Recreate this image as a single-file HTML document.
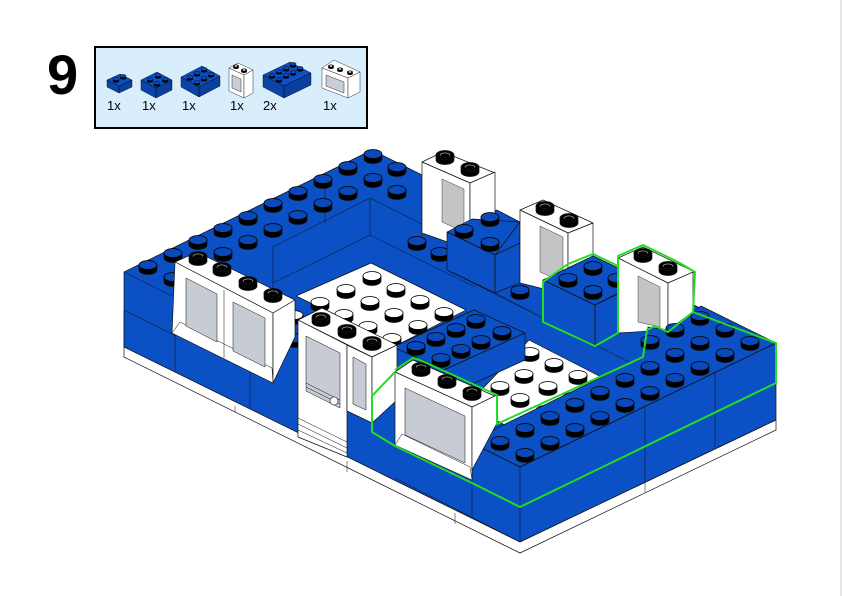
<!DOCTYPE html>
<html><head><meta charset="utf-8"><style>
html,body{margin:0;padding:0;background:#fff;}
svg{display:block;}
text{font-family:"Liberation Sans",sans-serif;}
</style></head><body>
<svg width="842" height="596" viewBox="0 0 842 596" xmlns="http://www.w3.org/2000/svg">
<defs>
<g id="bs"><path d="M-9,0 v5 a9,4.5 0 0 0 18,0 v-5 z" fill="#000"/><ellipse cx="0" cy="0" rx="9" ry="4.5" fill="#0b48b8" stroke="#000" stroke-width="0.8"/></g>
<g id="ws"><path d="M-9,0 v5 a9,4.5 0 0 0 18,0 v-5 z" fill="#000"/><ellipse cx="0" cy="0" rx="9" ry="4.5" fill="#fff" stroke="#000" stroke-width="0.8"/></g>
<g id="hs"><path d="M-9,0 v5 a9,4.5 0 0 0 18,0 v-5 z" fill="#000"/><ellipse cx="0" cy="0" rx="9" ry="4.5" fill="#000"/><ellipse cx="0" cy="0" rx="5.5" ry="2.6" fill="#fff"/><ellipse cx="0" cy="0.5" rx="4.5" ry="2" fill="#000"/></g>
<g id="ms"><ellipse cx="0" cy="2" rx="3.2" ry="1.6" fill="#000"/><ellipse cx="0" cy="0" rx="3.2" ry="1.6" fill="#0b48b8" stroke="#000" stroke-width="0.4"/></g>
<g id="mh"><ellipse cx="0" cy="1.5" rx="3" ry="1.5" fill="#000"/><ellipse cx="0" cy="0" rx="3" ry="1.5" fill="#000"/><ellipse cx="0" cy="0" rx="1.4" ry="0.7" fill="#fff"/></g>
</defs>
<rect width="842" height="596" fill="#fff"/>
<line x1="841" y1="0" x2="841" y2="596" stroke="#ddd" stroke-width="1.5"/>

<!-- step number -->
<text x="47" y="94" font-size="56" font-weight="bold" fill="#000">9</text>
<!-- parts box -->
<rect x="95" y="47" width="272" height="81" fill="#d9eefc" stroke="#000" stroke-width="2"/>
<g stroke="#000" stroke-width="0.4" fill="#0b50c4">
 <polygon points="107,80 120,74 132,80 119,86"/><polygon points="107,80 119,86 119,93 107,87" fill="#0a44a8"/><polygon points="119,86 132,80 132,87 119,93" fill="#0a3f9c"/>
 <polygon points="141,80 157,72 172,80 156,88"/><polygon points="141,80 156,88 156,98 141,90" fill="#0a44a8"/><polygon points="156,88 172,80 172,90 156,98" fill="#0a3f9c"/>
 <polygon points="181,77 202,66 220,76 199,87"/><polygon points="181,77 199,87 199,97 181,87" fill="#0a44a8"/><polygon points="199,87 220,76 220,86 199,97" fill="#0a3f9c"/>
 <polygon points="263,75 290,62 311,73 284,86"/><polygon points="263,75 284,86 284,98 263,87" fill="#0a44a8"/><polygon points="284,86 311,73 311,85 284,98" fill="#0a3f9c"/>
</g>
<g fill="#fff" stroke="#000" stroke-width="0.4">
 <polygon points="229,68 238,63 253,70 244,75"/><polygon points="229,68 244,75 244,98 229,91"/><polygon points="244,75 253,70 253,93 244,98"/>
 <polygon points="232,75 241,79 241,92 232,88" fill="#c8cdd6"/>
 <polygon points="322,68 334,60 360,72 348,78"/><polygon points="322,68 348,78 348,98 322,88"/><polygon points="348,78 360,72 360,92 348,98"/>
 <polygon points="326,75 344,82 344,93 326,86" fill="#c8cdd6"/>
</g>
<use href="#ms" x="116" y="79"/><use href="#ms" x="123" y="76"/>
<use href="#ms" x="150" y="79"/><use href="#ms" x="158" y="75"/><use href="#ms" x="157" y="83"/><use href="#ms" x="165" y="79"/>
<use href="#ms" x="190" y="77"/><use href="#ms" x="197" y="73"/><use href="#ms" x="204" y="69"/><use href="#ms" x="197" y="82"/><use href="#ms" x="204" y="78"/><use href="#ms" x="211" y="74"/>
<use href="#ms" x="272" y="75"/><use href="#ms" x="279" y="71"/><use href="#ms" x="286" y="68"/><use href="#ms" x="293" y="64"/><use href="#ms" x="279" y="79"/><use href="#ms" x="286" y="75"/><use href="#ms" x="293" y="72"/><use href="#ms" x="300" y="68"/>
<use href="#mh" x="236" y="66"/><use href="#mh" x="244" y="70"/>
<use href="#mh" x="331" y="66"/><use href="#mh" x="340" y="69"/><use href="#mh" x="350" y="72"/>
<g font-size="13" fill="#000">
<text x="107" y="110">1x</text><text x="142" y="110">1x</text><text x="182" y="110">1x</text><text x="230" y="110">1x</text><text x="263" y="110">2x</text><text x="323" y="110">1x</text>
</g>

<!-- ============ MODEL ============ -->
<g stroke="#111" stroke-width="0.7" stroke-linejoin="round">
<!-- blue silhouette -->
<polygon fill="#0b50c4" points="124,272 372,150 422,175 422,235 447,228 497,210 520,222 520,283 543,282 593,256 618,268 700,308 776,343 776,420 520,542 124,347"/>
<!-- white base -->
<polygon fill="#fff" points="124,347 520,542 776,420 776,430 520,553 124,357"/>
<g fill="none" stroke-width="0.5">
<line x1="124" y1="310" x2="176" y2="336"/>
<line x1="175" y1="298" x2="175" y2="372"/><line x1="250" y1="335" x2="250" y2="408"/>
<line x1="395" y1="478" x2="520" y2="542"/>
<line x1="472" y1="443" x2="472" y2="517"/>
<line x1="520" y1="467" x2="520" y2="542"/>
<line x1="520" y1="507" x2="776" y2="383"/>
<line x1="645" y1="405" x2="645" y2="481"/><line x1="715" y1="372" x2="715" y2="447"/>
<line x1="124" y1="310" x2="124" y2="347"/>
<line x1="235" y1="406" x2="235" y2="412"/><line x1="347" y1="461" x2="347" y2="472"/><line x1="455" y1="513" x2="455" y2="524"/><line x1="645" y1="481" x2="645" y2="492"/>
<!-- interior walls -->
<line x1="370" y1="198" x2="370" y2="235"/>
<line x1="370" y1="198" x2="273" y2="247"/>
<line x1="273" y1="247" x2="273" y2="317"/>
<line x1="370" y1="235" x2="273" y2="283"/>
<line x1="370" y1="198" x2="422" y2="224"/>
<line x1="370" y1="235" x2="475" y2="287"/>
<line x1="447" y1="270" x2="543" y2="318"/>
<line x1="495" y1="293" x2="595" y2="345"/>
<line x1="595" y1="345" x2="645" y2="370"/>
<line x1="325" y1="175" x2="325" y2="223"/>
<line x1="124" y1="272" x2="172" y2="296"/>
</g>

<!-- back-left wall studs -->
<use href="#bs" x="148" y="265"/><use href="#bs" x="173" y="253"/><use href="#bs" x="198" y="240"/><use href="#bs" x="223" y="228"/><use href="#bs" x="248" y="216"/><use href="#bs" x="273" y="203"/><use href="#bs" x="298" y="191"/><use href="#bs" x="323" y="179"/><use href="#bs" x="348" y="166"/><use href="#bs" x="373" y="154"/><use href="#bs" x="397" y="167"/>
<use href="#bs" x="173" y="277"/><use href="#bs" x="198" y="265"/><use href="#bs" x="223" y="252"/><use href="#bs" x="248" y="240"/><use href="#bs" x="273" y="228"/><use href="#bs" x="298" y="215"/><use href="#bs" x="323" y="203"/><use href="#bs" x="348" y="191"/><use href="#bs" x="373" y="178"/><use href="#bs" x="397" y="190"/>

<!-- back-right studs -->
<use href="#bs" x="417" y="241"/><use href="#bs" x="440" y="229"/><use href="#bs" x="440" y="252"/>
<use href="#bs" x="520" y="290"/><use href="#bs" x="545" y="277"/>

<!-- W3 -->
<polygon fill="#fff" points="422,162 443,152 495,173 470,183"/>
<polygon fill="#fff" points="422,162 470,183 470,250 422,233"/>
<polygon fill="#fff" points="470,183 495,172 495,230 470,250"/>
<polygon fill="#c4c4c4" stroke-width="0.4" points="442,179 464,189 464,232 442,222"/>
<use href="#hs" x="445" y="155"/><use href="#hs" x="470" y="167"/>

<!-- back middle block -->
<polygon fill="#0b50c4" points="447,232 472,219 520,222 495,255"/>
<polygon fill="#0b50c4" points="447,232 495,255 495,293 447,270"/>
<polygon fill="#0b50c4" points="495,255 520,243 520,283 495,293"/>
<use href="#bs" x="464" y="229"/><use href="#bs" x="490" y="217"/><use href="#bs" x="490" y="242"/>

<!-- W4 -->
<polygon fill="#fff" points="520,210 543,200 593,223 568,233"/>
<polygon fill="#fff" points="520,210 568,233 568,295 520,283"/>
<polygon fill="#fff" points="568,233 593,223 593,282 568,295"/>
<polygon fill="#c4c4c4" stroke-width="0.4" points="540,226 563,237 563,282 540,272"/>
<use href="#hs" x="545" y="206"/><use href="#hs" x="569" y="218"/>

<!-- green block -->
<polygon fill="#0b50c4" points="543,280 593,256 643,280 595,305"/>
<polygon fill="#0b50c4" points="543,280 595,305 595,345 543,322"/>
<polygon fill="#0b50c4" points="595,305 620,293 620,333 595,345"/>
<use href="#bs" x="568" y="278"/><use href="#bs" x="593" y="266"/><use href="#bs" x="593" y="290"/><use href="#bs" x="617" y="278"/>

<!-- W5 -->
<polygon fill="#fff" points="618,258 643,247 695,272 668,283"/>
<polygon fill="#fff" points="618,258 668,283 668,330 618,333"/>
<polygon fill="#fff" points="668,283 693,272 693,312 668,330"/>
<polygon fill="#c4c4c4" stroke-width="0.4" points="638,276 660,287 660,327 638,322"/>
<use href="#hs" x="643" y="253"/><use href="#hs" x="668" y="266"/>

<!-- white floor plate 1 -->
<polygon fill="#fff" points="371,263 466,310 397,345 296,296"/>
<use href="#ws" x="372" y="276"/><use href="#ws" x="396" y="288"/><use href="#ws" x="420" y="300"/><use href="#ws" x="444" y="312"/>
<use href="#ws" x="346" y="289"/><use href="#ws" x="370" y="301"/><use href="#ws" x="394" y="313"/><use href="#ws" x="418" y="325"/>
<use href="#ws" x="320" y="302"/><use href="#ws" x="344" y="314"/><use href="#ws" x="368" y="326"/><use href="#ws" x="392" y="338"/>
<use href="#ws" x="294" y="315"/><use href="#ws" x="318" y="327"/>

<!-- white floor plate 2 -->
<polygon fill="#fff" points="529,340 603,378 510,428 468,404"/>
<use href="#ws" x="530" y="352"/><use href="#ws" x="554" y="363"/><use href="#ws" x="578" y="375"/>
<use href="#ws" x="524" y="374"/><use href="#ws" x="548" y="386"/><use href="#ws" x="572" y="397"/>
<use href="#ws" x="500" y="386"/><use href="#ws" x="520" y="398"/><use href="#ws" x="545" y="410"/>

<!-- middle blue block -->
<polygon fill="#0b50c4" points="393,347 474,310 525,333 444,370"/>
<polygon fill="#0b50c4" points="393,347 444,370 444,397 393,374"/>
<polygon fill="#0b50c4" points="444,370 525,333 525,360 444,397"/>
<use href="#bs" x="416" y="346"/><use href="#bs" x="436" y="337"/><use href="#bs" x="456" y="328"/><use href="#bs" x="476" y="319"/>
<use href="#bs" x="441" y="358"/><use href="#bs" x="461" y="349"/><use href="#bs" x="481" y="340"/><use href="#bs" x="502" y="331"/>

<!-- inner small studs near walls -->
<use href="#bs" x="295" y="338"/><use href="#bs" x="397" y="393"/>

<!-- W1 double window -->
<polygon fill="#fff" points="175,262 197,252 295,300 273,313"/>
<polygon fill="#fff" points="175,262 273,313 273,383 172,333"/>
<polygon fill="#fff" points="273,313 295,300 295,337 273,383"/>
<polygon fill="#fff" stroke-width="0.5" points="172,333 180,322 272,368 273,383"/>
<polygon fill="#c6cbd4" stroke-width="0.5" points="186,278 217,294 217,342 186,326"/>
<polygon fill="#c6cbd4" stroke-width="0.5" points="233,302 265,318 265,367 233,351"/>
<line x1="224" y1="290" x2="224" y2="358" stroke-width="0.5"/>
<use href="#hs" x="198" y="256"/><use href="#hs" x="222" y="267"/><use href="#hs" x="248" y="281"/><use href="#hs" x="273" y="293"/>

<!-- door block -->
<polygon fill="#fff" points="298,320 322,308 397,345 372,357"/>
<polygon fill="#fff" points="298,320 347,345 347,457 298,437"/>
<polygon fill="#fff" points="347,345 372,357 372,423 347,411"/>
<polygon fill="#fff" points="372,357 397,345 397,400 372,423"/>
<polygon fill="#c6cbd4" stroke-width="0.5" points="306,336 340,353 340,408 306,391"/>
<polygon fill="#c6cbd4" stroke-width="0.5" points="353,357 366,364 366,410 353,404"/>
<g stroke-width="0.5" fill="none">
<line x1="306" y1="383" x2="340" y2="400"/><line x1="306" y1="387" x2="340" y2="404"/>
<line x1="298" y1="418" x2="347" y2="442"/><line x1="298" y1="424" x2="347" y2="448"/><line x1="298" y1="430" x2="347" y2="453"/>
</g>
<circle cx="334" cy="401" r="4" fill="#fff" stroke-width="0.6"/>
<use href="#hs" x="321" y="317"/><use href="#hs" x="347" y="329"/><use href="#hs" x="372" y="341"/>

<!-- right wall top -->
<polygon fill="#0b50c4" points="472,443 520,467 776,343 701,306 693,312 668,330 648,327 643,357 497,428"/>
<line x1="472" y1="443" x2="520" y2="467"/><line x1="520" y1="467" x2="776" y2="343"/>
<use href="#bs" x="525" y="453"/><use href="#bs" x="550" y="441"/><use href="#bs" x="575" y="428"/><use href="#bs" x="600" y="416"/><use href="#bs" x="625" y="403"/><use href="#bs" x="650" y="391"/><use href="#bs" x="675" y="378"/><use href="#bs" x="700" y="366"/><use href="#bs" x="725" y="353"/><use href="#bs" x="750" y="341"/>
<use href="#bs" x="500" y="441"/><use href="#bs" x="525" y="428"/><use href="#bs" x="550" y="416"/><use href="#bs" x="575" y="403"/><use href="#bs" x="600" y="391"/><use href="#bs" x="625" y="378"/><use href="#bs" x="650" y="366"/><use href="#bs" x="675" y="353"/><use href="#bs" x="700" y="341"/><use href="#bs" x="725" y="328"/>
<use href="#bs" x="675" y="328"/><use href="#bs" x="700" y="316"/><use href="#bs" x="650" y="340"/>

<!-- W2 front window -->
<polygon fill="#fff" points="395,372 413,360 497,397 472,407"/>
<polygon fill="#fff" points="395,372 472,407 472,480 395,445"/>
<polygon fill="#fff" points="472,407 497,395 497,423 472,470"/>
<polygon fill="#fff" stroke-width="0.5" points="395,445 402,434 470,467 472,480"/>
<polygon fill="#c6cbd4" stroke-width="0.5" points="405,388 465,416 465,463 405,435"/>
<use href="#hs" x="421" y="367"/><use href="#hs" x="447" y="379"/><use href="#hs" x="472" y="391"/>
</g>

<!-- green outlines -->
<g fill="none" stroke="#22dd22" stroke-width="2" stroke-linejoin="round">
<path d="M395,370 L413,358 L420,360 L497,395 L497,424 L643,357 L647,330 L655,326 L668,332 L693,312 L695,272 L678,262 L643,245 L618,256 L618,333 L595,346 L543,322 L543,282 L568,264 L593,254 L618,266"/>
<path d="M693,312 L776,343 L776,383 L520,507 L472,483 L395,446 L372,432 L372,396 L395,372"/>
</g>
</svg>
</body></html>
